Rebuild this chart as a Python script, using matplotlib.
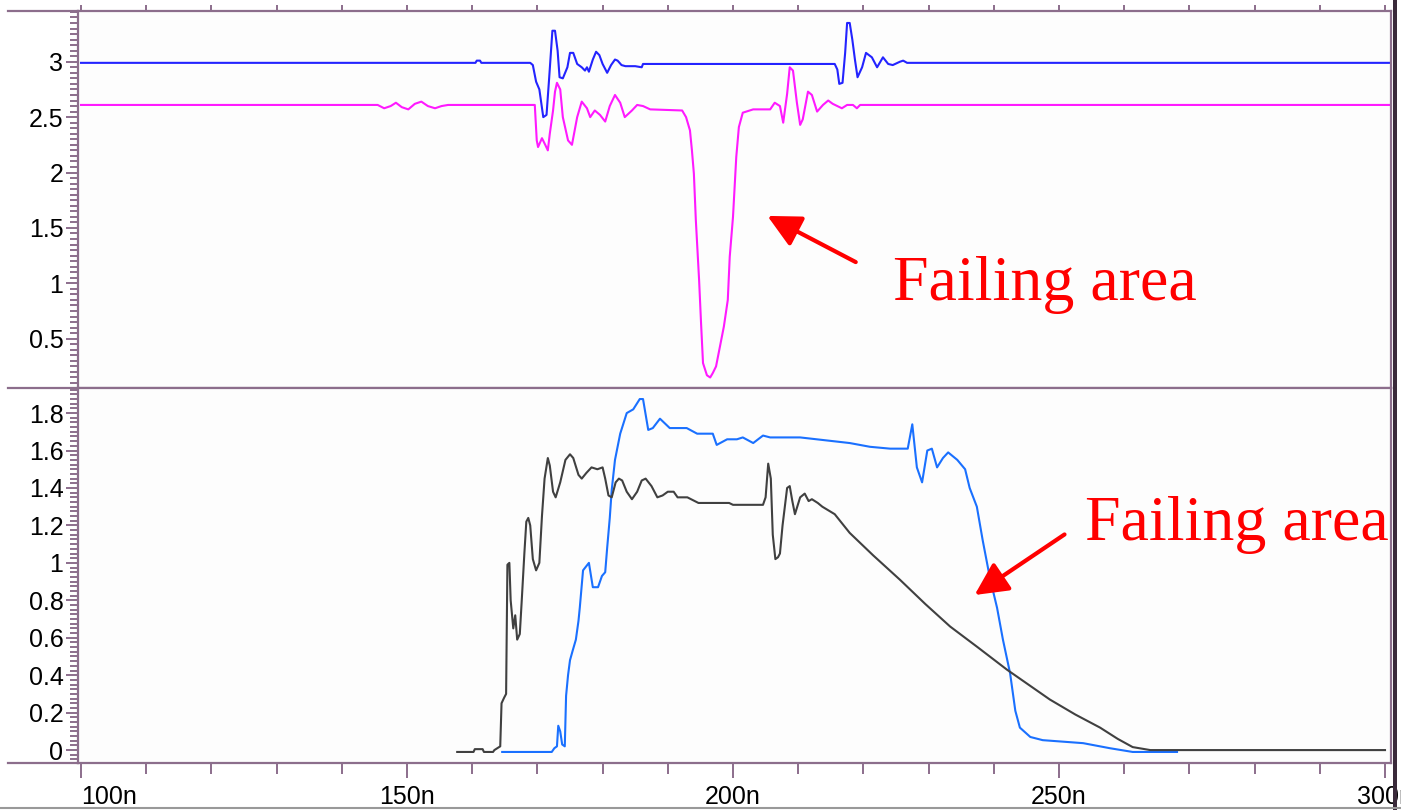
import numpy as np
import matplotlib
matplotlib.use("Agg")
import matplotlib.pyplot as plt
from matplotlib.ticker import MultipleLocator, FuncFormatter
from matplotlib.lines import Line2D
from matplotlib.patches import Rectangle

plt.rcParams['font.family'] = ['Liberation Sans', 'DejaVu Sans']

# --- top panel traces (time in ns, volts) ---
top_blue_t = [100, 160.5, 160.7, 161.2, 161.4, 168.9, 169.3, 169.8, 170.3, 170.9, 171.4, 171.8,
              172.3, 172.7, 173.1, 173.4, 173.9, 174.6, 175.0, 175.5, 176.1, 176.8, 177.3, 177.6,
              177.9, 178.5, 179.0, 179.5, 180.0, 180.7, 181.3, 181.9, 182.3, 182.9, 183.5, 185.0,
              186.0, 186.2, 215.6, 216.0, 216.3, 216.8, 217.2, 217.5, 217.9, 218.3, 218.7, 219.1,
              219.8, 220.4, 221.3, 222.1, 222.5, 223.0, 223.8, 224.5, 225.6, 226.1, 226.7, 300.9]
top_blue_v = [2.99, 2.99, 3.01, 3.01, 2.99, 2.99, 2.97, 2.82, 2.75, 2.5, 2.52, 2.85,
              3.28, 3.28, 3.1, 2.86, 2.85, 2.95, 3.08, 3.08, 2.98, 2.95, 2.92, 2.95,
              2.91, 3.02, 3.09, 3.06, 2.98, 2.9, 2.97, 3.02, 3.01, 2.97, 2.96, 2.96,
              2.95, 2.98, 2.98, 2.93, 2.8, 2.81, 3.08, 3.35, 3.35, 3.2, 3.02, 2.86,
              2.95, 3.08, 3.04, 2.95, 2.99, 3.04, 2.98, 2.97, 3.0, 3.01, 2.99, 2.99]

top_mag_t = [100, 145.5, 146.5, 147.5, 148.3, 149.2, 150.2, 151.2, 152.2, 153.2, 154.3, 155.3,
             156.3, 169.6, 169.9, 170.1, 170.7, 171.2, 171.6, 171.9, 172.4, 172.7, 173.0, 173.5,
             173.9, 174.7, 175.3, 176.1, 176.8, 177.6, 178.1, 178.8, 179.6, 180.4, 181.1, 181.9,
             182.7, 183.4, 184.5, 185.3, 186.2, 187.3, 192.2, 192.8, 193.4, 193.7, 194.0, 194.3,
             194.8, 195.1, 195.4, 196.0, 196.5, 196.9, 197.4, 198.0, 198.6, 199.2, 199.5, 200.0,
             200.5, 200.9, 201.5, 203.1, 205.7, 206.4, 207.2, 207.7, 208.3, 208.7, 209.2, 209.8,
             210.3, 210.7, 211.5, 212.1, 212.9, 213.8, 214.6, 215.3, 216.7, 217.5, 218.4, 219.0,
             219.5, 300.9]
top_mag_v = [2.61, 2.61, 2.58, 2.6, 2.63, 2.59, 2.57, 2.62, 2.64, 2.6, 2.58, 2.6,
             2.61, 2.61, 2.29, 2.23, 2.31, 2.25, 2.2, 2.35, 2.56, 2.73, 2.81, 2.75,
             2.5, 2.29, 2.25, 2.5, 2.64, 2.58, 2.5, 2.56, 2.52, 2.46, 2.6, 2.7,
             2.63, 2.5, 2.56, 2.61, 2.6, 2.57, 2.56, 2.5, 2.38, 2.2, 1.99, 1.57,
             1.03, 0.64, 0.28, 0.17, 0.15, 0.19, 0.25, 0.43, 0.61, 0.85, 1.24, 1.6,
             2.14, 2.41, 2.54, 2.57, 2.57, 2.63, 2.6, 2.45, 2.71, 2.95, 2.92, 2.63,
             2.43, 2.48, 2.73, 2.7, 2.55, 2.61, 2.65, 2.62, 2.58, 2.61, 2.61, 2.58,
             2.61, 2.61]

# --- bottom panel traces ---
bot_dark_t = [157.7, 160.2, 160.4, 161.6, 161.8, 163.2, 163.4, 164.3, 164.5, 164.9, 165.2, 165.4,
              165.7, 165.9, 166.3, 166.6, 166.9, 167.3, 167.6, 168.0, 168.3, 168.6, 168.9, 169.3,
              169.8, 170.3, 170.7, 171.1, 171.6, 171.9, 172.4, 172.8, 173.5, 174.3, 175.0, 175.5,
              176.3, 176.8, 177.5, 178.3, 179.2, 180.0, 180.4, 180.9, 181.4, 182.0, 182.5, 183.0,
              183.7, 184.5, 185.3, 186.0, 186.6, 187.5, 188.4, 189.2, 190.0, 190.9, 191.5, 193.0,
              194.7, 199.4, 200.0, 204.6, 205.0, 205.4, 205.8, 206.1, 206.5, 206.9, 207.2, 207.6,
              208.3, 208.7, 209.1, 209.5, 210.3, 211.0, 211.6, 212.1, 213.0, 213.7, 215.6, 217.9,
              221.5, 225.6, 229.5, 233.3, 237.5, 242.0, 245.3, 248.6, 252.5, 256.3, 259.0, 261.3,
              264.0, 300.0]
bot_dark_v = [-0.01, -0.01, 0.005, 0.005, -0.01, -0.01, 0.0, 0.02, 0.25, 0.28, 0.3, 0.99,
              1.0, 0.8, 0.65, 0.72, 0.59, 0.62, 0.8, 1.05, 1.22, 1.24, 1.2, 1.02,
              0.96, 1.0, 1.25, 1.45, 1.56, 1.52, 1.38, 1.35, 1.43, 1.55, 1.58, 1.56,
              1.47, 1.45, 1.48, 1.51, 1.5, 1.51, 1.45, 1.36, 1.35, 1.43, 1.45, 1.44,
              1.38, 1.34, 1.38, 1.44, 1.45, 1.41, 1.35, 1.36, 1.38, 1.38, 1.35, 1.35,
              1.32, 1.32, 1.31, 1.31, 1.35, 1.53, 1.45, 1.15, 1.02, 1.03, 1.05, 1.2,
              1.4, 1.41, 1.33, 1.26, 1.35, 1.37, 1.33, 1.34, 1.32, 1.3, 1.26, 1.16,
              1.04, 0.91, 0.78, 0.66, 0.55, 0.43, 0.35, 0.27, 0.19, 0.12, 0.06, 0.016,
              0.0, 0.0]

bot_blue_t = [164.6, 172.2, 172.6, 173.0, 173.2, 173.5, 173.8, 174.2, 174.4, 174.7, 175.0, 175.4,
              175.9, 176.3, 176.5, 177.0, 177.9, 178.5, 179.3, 179.9, 180.4, 180.7, 181.1, 181.4,
              181.9, 182.7, 183.7, 184.7, 185.7, 186.2, 187.0, 187.7, 188.8, 190.3, 192.9, 194.5,
              196.9, 197.5, 199.1, 200.6, 201.5, 203.1, 204.6, 205.7, 210.3, 217.9, 221.0, 224.1,
              226.8, 227.5, 228.2, 229.0, 229.8, 230.5, 231.3, 232.2, 233.0, 234.4, 235.6, 236.3,
              237.4, 238.3, 239.4, 240.5, 241.4, 242.5, 243.3, 244.0, 245.6, 247.5, 253.7, 257.8,
              261.3, 268.1]
bot_blue_v = [-0.01, -0.01, 0.01, 0.02, 0.13, 0.1, 0.03, 0.02, 0.29, 0.4, 0.48, 0.53,
              0.59, 0.69, 0.76, 0.96, 1.0, 0.87, 0.87, 0.93, 0.95, 1.08, 1.24, 1.39,
              1.55, 1.69, 1.8, 1.82, 1.875, 1.875, 1.71, 1.72, 1.77, 1.72, 1.72, 1.69,
              1.69, 1.63, 1.66, 1.66, 1.67, 1.64, 1.68, 1.67, 1.67, 1.64, 1.62, 1.61,
              1.61, 1.74, 1.51, 1.43, 1.6, 1.61, 1.51, 1.56, 1.59, 1.55, 1.5, 1.4,
              1.3, 1.12, 0.92, 0.76, 0.59, 0.41, 0.21, 0.12, 0.07, 0.053, 0.037, 0.01,
              -0.01, -0.01]

x_major = [100, 150, 200, 250, 300]
x_labels = ['100n', '150n', '200n', '250n', '300n']

W, H = 1401, 810
frame = '#8c6e8c'
fig = plt.figure(figsize=(W / 100, H / 100), dpi=100)
fig.patch.set_facecolor('white')

def px(l, t, r, b):
    return [l / W, 1 - b / H, (r - l) / W, (b - t) / H]

ax1 = fig.add_axes(px(78, 11, 1391, 388))
ax2 = fig.add_axes(px(78, 388, 1391, 763))

ax1.plot(top_mag_t, top_mag_v, color='#ff1aff', lw=1.5)
ax1.plot(top_blue_t, top_blue_v, color='#2323ff', lw=1.5)
ax2.plot(bot_blue_t, bot_blue_v, color='#1a70ff', lw=1.5)
ax2.plot(bot_dark_t, bot_dark_v, color='#404040', lw=1.5)

ax1.set_ylim(0.055, 3.458)
ax2.set_ylim(-0.069, 1.934)

fmt = FuncFormatter(lambda v, p: '%g' % v)
for ax in (ax1, ax2):
    ax.set_xlim(99.54, 300.92)
    ax.set_facecolor('#fdfdfd')
    for s in ax.spines.values():
        s.set_color(frame)
        s.set_linewidth(1.6)
    ax.yaxis.set_major_formatter(fmt)
    ax.tick_params(axis='y', which='major', direction='out', length=8.5, width=1.4,
                   color=frame, labelsize=18, pad=2)
    ax.tick_params(axis='y', which='minor', direction='out', length=5.5, width=1.4, color=frame)

ax1.yaxis.set_major_locator(MultipleLocator(0.5))
ax1.yaxis.set_minor_locator(MultipleLocator(0.05))
ax2.yaxis.set_major_locator(MultipleLocator(0.2))
ax2.yaxis.set_minor_locator(MultipleLocator(0.025))

# top panel: small ticks on the top edge only
ax1.xaxis.set_major_locator(MultipleLocator(10))
ax1.tick_params(axis='x', which='both', bottom=False, labelbottom=False, top=True,
                direction='out', length=4.5, width=1.4, color=frame)

ax2.set_xticks(x_major)
ax2.set_xticklabels(x_labels)
ax2.xaxis.set_minor_locator(MultipleLocator(10))
ax2.tick_params(axis='x', which='major', direction='out', length=11, width=1.4,
                color=frame, labelsize=18, pad=5)
ax2.tick_params(axis='x', which='minor', direction='out', length=8, width=1.4, color=frame)
ax2.get_xticklabels()[0].set_horizontalalignment('left')

# frame lines that run left of the axes, window edges
for yy in (11, 388, 763):
    fig.add_artist(Line2D([8 / W, 78 / W], [1 - yy / H, 1 - yy / H], color=frame, lw=1.6))
fig.add_artist(Line2D([0, 1], [1 - 808 / H, 1 - 808 / H], color='#999999', lw=1.5))
fig.add_artist(Rectangle((1393 / W, 0), 4 / W, 1, transform=fig.transFigure,
                         color='#3a2a3a', lw=0))

# annotations
red = '#ff0000'
ax1.annotate('', xy=(204.9, 1.62), xytext=(219.2, 1.18),
             arrowprops=dict(arrowstyle='-|>,head_length=1.0,head_width=0.5',
                             color=red, lw=3, mutation_scale=20))
ax2.annotate('', xy=(236.7, 0.82), xytext=(251.2, 1.16),
             arrowprops=dict(arrowstyle='-|>,head_length=1.0,head_width=0.5',
                             color=red, lw=3, mutation_scale=20))
fig.text(893 / W, 1 - 300 / H, 'Failing area', color=red, fontsize=46,
         family=['Liberation Serif'], va='baseline', ha='left')
fig.text(1085 / W, 1 - 540 / H, 'Failing area', color=red, fontsize=46,
         family=['Liberation Serif'], va='baseline', ha='left')

fig.savefig('out.png', dpi=100)
